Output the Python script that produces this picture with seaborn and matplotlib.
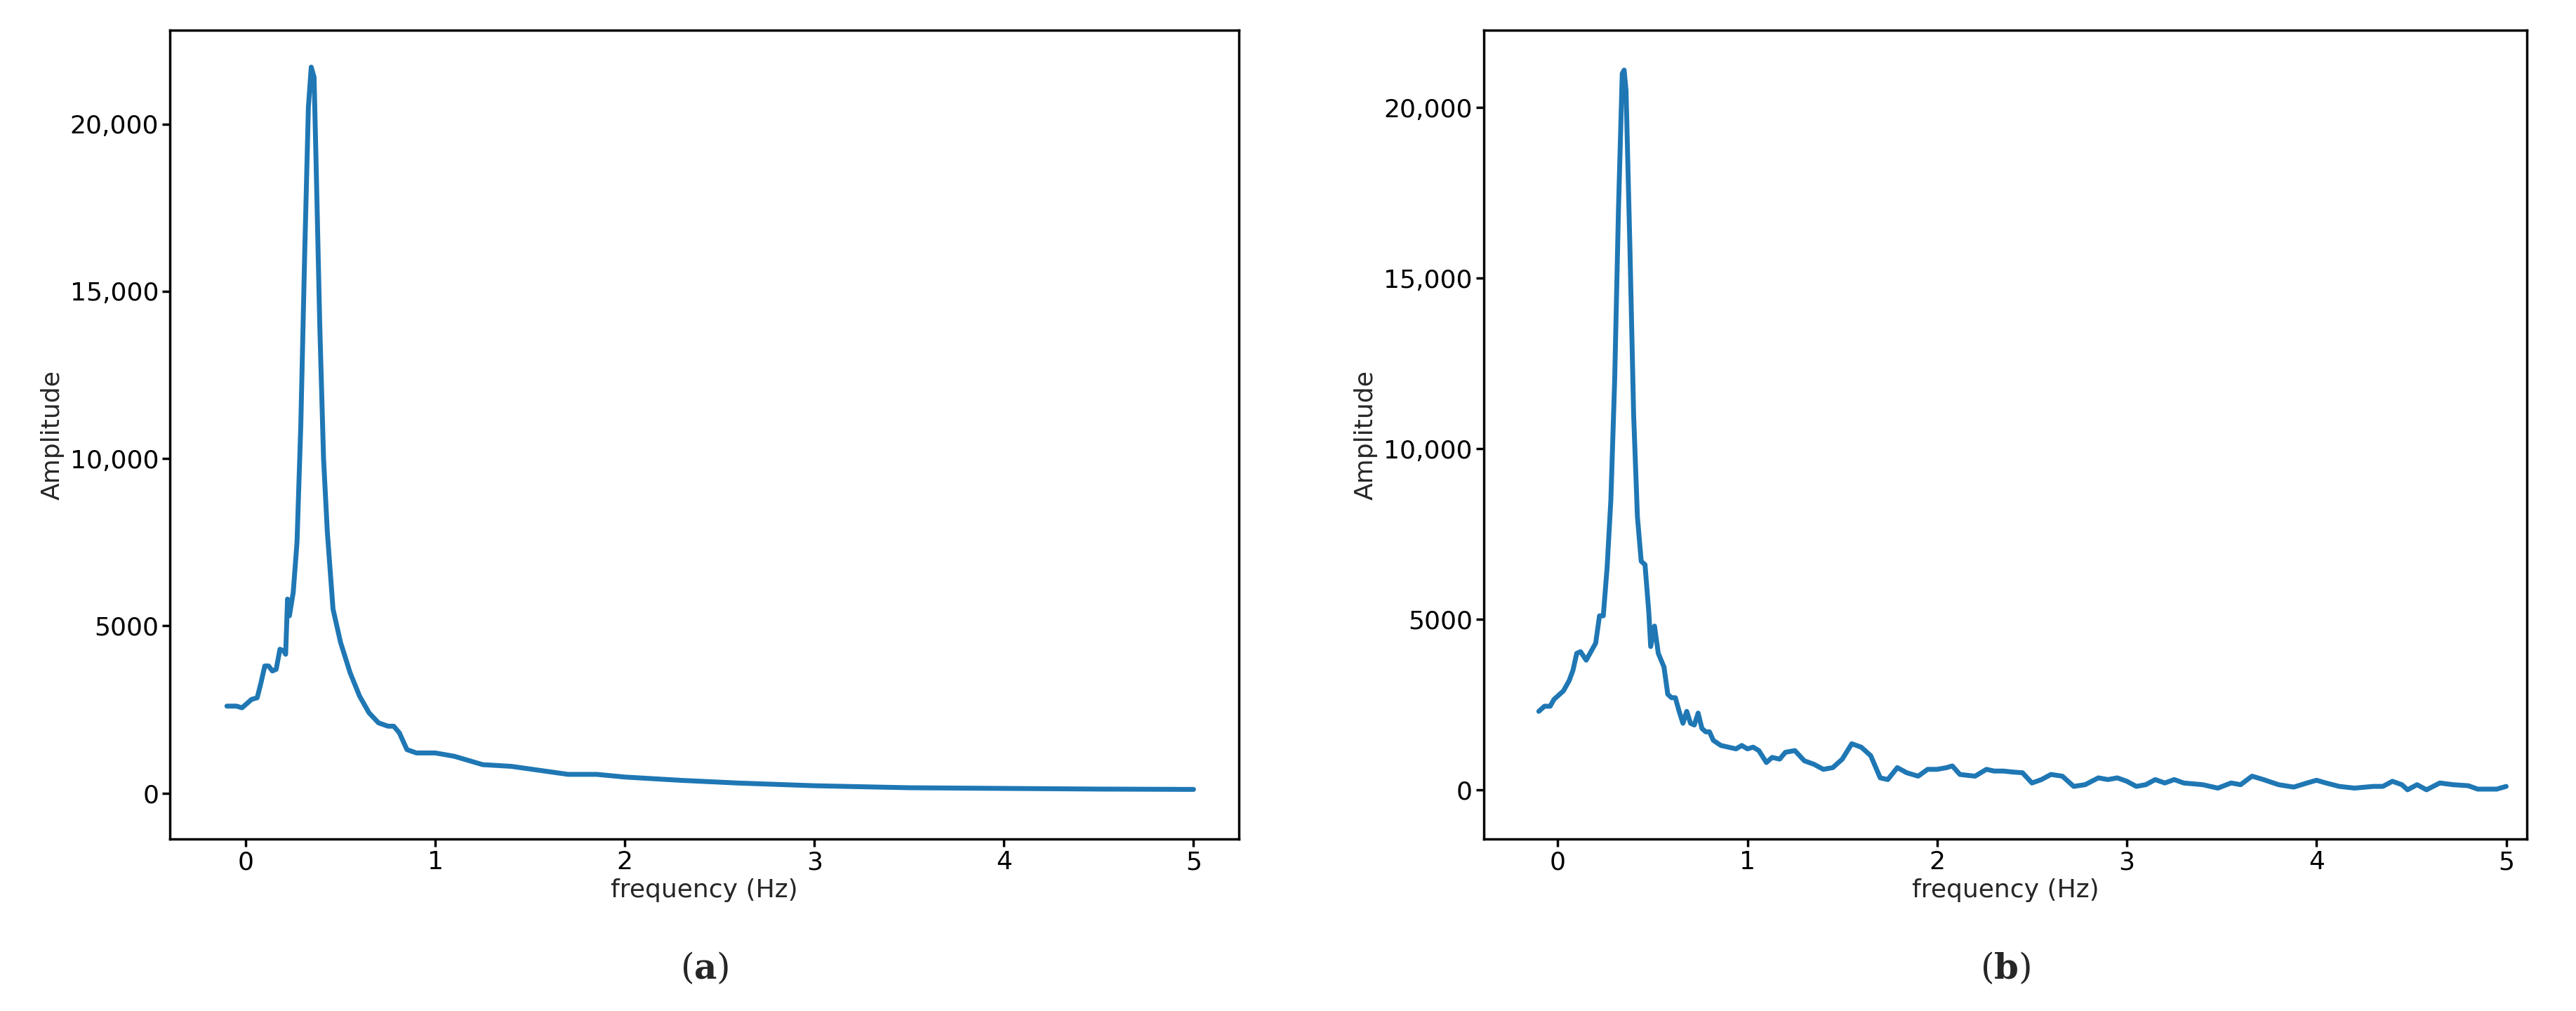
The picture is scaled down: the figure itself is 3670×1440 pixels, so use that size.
import matplotlib
matplotlib.use("Agg")
import matplotlib.pyplot as plt
import seaborn as sns
import pandas as pd
from matplotlib.ticker import FuncFormatter

freq_a = [-0.1,-0.05,-0.02,0,0.03,0.06,0.08,0.1,0.12,0.14,0.16,0.18,0.2,0.21,0.22,0.23,0.25,0.27,0.29,0.31,0.33,0.345,0.36,0.37,0.39,0.41,0.43,0.46,0.5,0.55,0.6,0.65,0.7,0.75,0.78,0.81,0.85,0.9,1.0,1.1,1.25,1.4,1.55,1.7,1.85,2.0,2.3,2.6,3.0,3.5,4.0,4.5,5.0]
amp_a = [2600,2600,2550,2650,2800,2850,3300,3800,3800,3650,3700,4300,4250,4150,5800,5300,6000,7500,11000,16000,20500,21700,21400,19000,14000,10000,7800,5500,4500,3600,2900,2400,2100,2000,2000,1800,1300,1200,1200,1100,850,800,680,560,560,480,380,300,220,160,140,120,110]

freq_b = [-0.1,-0.07,-0.04,-0.02,0,0.03,0.06,0.08,0.1,0.12,0.15,0.18,0.2,0.22,0.24,0.26,0.28,0.3,0.32,0.34,0.35,0.36,0.38,0.4,0.42,0.44,0.46,0.48,0.49,0.51,0.53,0.56,0.58,0.6,0.62,0.64,0.66,0.68,0.7,0.72,0.74,0.76,0.78,0.8,0.82,0.86,0.9,0.94,0.97,1.0,1.03,1.06,1.1,1.13,1.17,1.2,1.25,1.3,1.35,1.4,1.45,1.5,1.55,1.6,1.65,1.7,1.74,1.79,1.84,1.9,1.95,2.0,2.05,2.08,2.12,2.2,2.26,2.3,2.35,2.4,2.45,2.5,2.55,2.6,2.66,2.7,2.72,2.78,2.85,2.9,2.95,3.0,3.05,3.1,3.15,3.2,3.25,3.3,3.4,3.48,3.55,3.6,3.66,3.72,3.8,3.88,3.95,4.0,4.05,4.12,4.2,4.3,4.35,4.4,4.45,4.48,4.53,4.58,4.65,4.72,4.8,4.85,4.95,5.0]
amp_b = [2300,2450,2450,2650,2750,2900,3200,3500,4000,4050,3800,4100,4300,5100,5100,6500,8500,12000,17000,21000,21100,20500,16000,11000,8000,6700,6600,5200,4200,4800,4000,3600,2800,2700,2700,2300,1950,2300,1950,1900,2250,1800,1700,1700,1450,1300,1250,1200,1300,1200,1250,1150,800,950,900,1100,1150,850,750,600,650,900,1350,1250,1000,350,300,650,500,400,600,600,650,700,450,400,600,550,550,520,500,200,300,450,400,200,100,150,350,300,350,250,100,150,300,200,300,200,150,50,200,150,400,300,150,80,200,280,200,100,50,100,100,250,150,0,150,0,200,150,120,20,20,100]

sns.set_style("ticks")
plt.rcParams['font.family'] = ['DejaVu Sans']
plt.rcParams['mathtext.fontset'] = 'dejavuserif'

fig = plt.figure(figsize=(36.7, 14.4), dpi=100)
ax1 = fig.add_axes([0.066, 0.17, 0.415, 0.80])
ax2 = fig.add_axes([0.576, 0.17, 0.405, 0.80])

fmt = FuncFormatter(lambda v, p: f"{int(v):,}" if abs(v) >= 10000 else f"{int(v)}")
panels = [(ax1, freq_a, amp_a, (-0.40, 5.24), (-1376, 22800), "(a)"),
          (ax2, freq_b, amp_b, (-0.39, 5.11), (-1446, 22265), "(b)")]
for ax, f, a, xl, yl, lab in panels:
    df = pd.DataFrame({"f": f, "a": a})
    sns.lineplot(data=df, x="f", y="a", ax=ax, color="#1f77b4", linewidth=5)
    ax.set_xlim(*xl); ax.set_ylim(*yl)
    ax.set_yticks([0, 5000, 10000, 15000, 20000])
    ax.set_xticks([0, 1, 2, 3, 4, 5])
    ax.yaxis.set_major_formatter(fmt)
    ax.tick_params(labelsize=26, width=2.5, length=8, colors="black")
    for s in ax.spines.values():
        s.set_linewidth(2.5)
        s.set_color("black")
    ax.set_xlabel("frequency (Hz)", fontsize=26, labelpad=4)
    ax.set_ylabel("Amplitude", fontsize=26, labelpad=6)
    ax.text(0.5, -0.16, lab[0] + r"$\mathbf{" + lab[1] + "}$" + lab[2],
            transform=ax.transAxes, ha="center", va="center", fontsize=36, family="DejaVu Serif")

fig.savefig("out.png", dpi=100)
